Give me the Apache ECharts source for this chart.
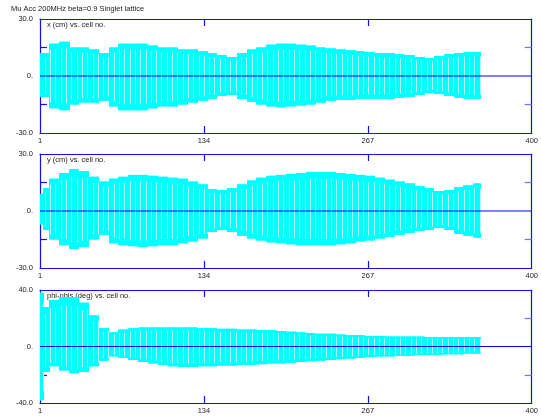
<!DOCTYPE html>
<html>
<head>
<meta charset="utf-8">
<script src="https://cdn.jsdelivr.net/npm/echarts@6/dist/echarts.min.js"></script>
<style>
html,body{margin:0;padding:0;background:#fff;}
#chart{width:541px;height:417px;}
</style>
</head>
<body>
<div id="chart"></div>
<script>
// Group boundaries (cell numbers); each group spans [cellEdges[i], cellEdges[i+1])
const cellEdges = [1,4,9,17,25,33,41,49,57,65,73,81,89,97,105,113,121,129,137,145,153,161,169,177,185,193,201,209,217,225,233,241,249,257,265,273,281,289,297,305,313,321,329,337,345,353,359];

// Panel 1: x (cm) envelope per group
const xHi = [12,12,17,18,15,15,14,12,15,17,17,17,16,15,15,14,14,13,12,11,10,12,14,15,16.5,17,17,16.5,16,15,14.5,14,13.5,13,12.5,12,12,11.5,11,10,9.5,10.5,11.5,12,12.5,12.5];
const xLo = [-11,-11,-17,-18,-15,-14,-14,-13,-16,-18,-18,-18,-17,-16,-16,-15,-14,-13,-12,-10.5,-10,-12,-13.5,-15,-16,-16.5,-16,-15.5,-15,-14,-13,-12.5,-12.5,-12,-12,-12,-12,-11.5,-11,-10,-9,-9.5,-10.5,-11.5,-12,-12];

// Panel 2: y (cm) envelope per group
const yHi = [9,12,17,20,22,21,18,15.5,17,18,19,19,18.5,18,17.5,17,15.5,14,11.5,11,12,14,16,17.5,18.5,19,19.5,20,20.5,20.5,20.5,20,19.5,19,18.5,17.5,16.5,15.5,14.5,13,12,10.5,11,12.5,13.5,14.5];
const yLo = [-7,-10,-15,-18,-20,-19,-15,-12.5,-17,-18,-18.5,-19,-18.5,-18,-18,-17,-16,-14.5,-11,-10,-11,-13,-14.5,-15.5,-16.5,-17,-17.5,-18,-18,-18,-18,-17.5,-17,-16,-15.5,-14.5,-13.5,-12.5,-11.5,-10.5,-10,-9,-10,-12,-13,-14];

// Panel 3: phi-phis (deg) envelope per group
const pHi = [38,28,33,35,35,31,22,13,10,12,13,13.5,13.5,13.5,13.5,13.5,13.5,13,13,12.5,12.5,12,12,11.5,11.5,11,10.5,10,9.5,9,9,8.5,8,8,7.5,7.5,7,7,7,7,6.5,6.5,6.5,6.5,6.5,6.5];
const pLo = [-38,-18,-14,-17,-19,-18,-14,-10,-7,-8,-9.5,-11,-12,-13,-14,-14.5,-14.5,-14,-14,-13.5,-13.5,-13,-13,-12.5,-12,-12,-11.5,-11,-10.5,-10,-9.5,-9,-8.5,-8,-7.5,-7,-7,-6.5,-6.5,-6,-6,-6,-5.5,-5.5,-5,-5];

const xTicks = [1,134,267,400];
const panelTitles = ['x (cm) vs. cell no.','y (cm) vs. cell no.','phi-phis (deg) vs. cell no.'];
const yRanges = [30,30,40];
const mainTitle = 'Mu Acc 200MHz beta=0.9 Singlet lattice';

const panels = [[xHi,xLo],[yHi,yLo],[pHi,pLo]];
const tops = [19,154,290];
const heights = [114,114,113];
const FONT = 'Liberation Sans';
const BLUE = '#1010f0';
const TXT = '#222';

const grids = [], xAxes = [], yAxes = [], series = [], titles = [];
titles.push({text: mainTitle, left: 11, top: 5, padding: 0,
  textStyle:{fontSize:7.5, fontWeight:'normal', color:TXT, fontFamily:FONT}});

panels.forEach(([hi, lo], p) => {
  const R = yRanges[p];
  grids.push({left:40, right:7, top:tops[p], height:heights[p], containLabel:false});
  titles.push({text: panelTitles[p], left: 47, top: tops[p] + 1.5, padding: 0, z: 1,
    textStyle:{fontSize:7.5, fontWeight:'normal', color:TXT, fontFamily:FONT}});
  const axLine = {show:true, onZero:false, lineStyle:{color:BLUE, width:1.2}};
  xAxes.push({gridIndex:p, type:'value', min:xTicks[0], max:xTicks[xTicks.length-1], position:'bottom',
    axisLine:axLine, splitLine:{show:false},
    axisTick:{show:true, inside:true, length:7, customValues:xTicks.slice(1,-1), lineStyle:{color:BLUE, width:1.2}},
    axisLabel:{show:true, customValues:xTicks, fontSize:7.5, color:TXT, fontFamily:FONT, margin:4,
      formatter: v => String(Math.round(v))}});
  xAxes.push({gridIndex:p, type:'value', min:xTicks[0], max:xTicks[xTicks.length-1], position:'top',
    axisLine:axLine, splitLine:{show:false},
    axisTick:{show:true, inside:true, length:7, customValues:xTicks.slice(1,-1), lineStyle:{color:BLUE, width:1.2}},
    axisLabel:{show:false}});
  const yFmt = v => v === 0 ? '0.' : v.toFixed(1);
  yAxes.push({gridIndex:p, type:'value', min:-R, max:R, position:'left',
    axisLine:axLine, splitLine:{show:false},
    axisTick:{show:true, inside:true, length:7, customValues:[-R/2, R/2], lineStyle:{color:BLUE, width:1.2}},
    axisLabel:{show:true, customValues:[-R,0,R], fontSize:7.5, color:TXT, fontFamily:FONT, margin:7, formatter:yFmt}});
  yAxes.push({gridIndex:p, type:'value', min:-R, max:R, position:'right',
    axisLine:axLine, splitLine:{show:false},
    axisTick:{show:true, inside:true, length:7, customValues:[-R/2, R/2], lineStyle:{color:'#7070ff', width:1.2}},
    axisLabel:{show:false}});

  const data = hi.map((h, i) => [cellEdges[i], cellEdges[i+1], lo[i], h]);
  series.push({
    type:'custom', xAxisIndex:2*p, yAxisIndex:2*p, z:3, clip:true,
    encode:{x:[0,1], y:[2,3]},
    data: data,
    renderItem: function(params, api){
      const s = api.value(0), e = api.value(1), l = api.value(2), h = api.value(3);
      const a = api.coord([s, h]), b = api.coord([e, l]);
      const x0 = Math.round(a[0]), x1 = Math.round(b[0]);
      const w = Math.max(1, x1 - x0);
      const yIn1 = api.coord([s, h * 0.82])[1], yIn2 = api.coord([s, l * 0.82])[1];
      const children = [
        // pale body
        {type:'rect', shape:{x:x0, y:a[1], width:w, height:b[1]-a[1]}, style:{fill:'#b4ffff'}},
        // dense edge bands
        {type:'rect', shape:{x:x0, y:a[1], width:w, height:yIn1-a[1]}, style:{fill:'#00ffff'}},
        {type:'rect', shape:{x:x0, y:yIn2, width:w, height:b[1]-yIn2}, style:{fill:'#00ffff'}}
      ];
      // one column per cell
      for (let c = s; c < e; c += 1) {
        const px = Math.floor(api.coord([c, 0])[0]);
        children.push({type:'rect', shape:{x:px, y:a[1], width:1, height:b[1]-a[1]}, style:{fill:'#00ffff'}});
      }
      return {type:'group', children};
    }
  });
  series.push({
    type:'line', xAxisIndex:2*p, yAxisIndex:2*p, z:5, symbol:'none', silent:true,
    data:[[xTicks[0],0],[xTicks[xTicks.length-1],0]],
    lineStyle:{color:'#0000ff', width:1}
  });
});

const chart = echarts.init(document.getElementById('chart'), null, {renderer:'canvas'});
chart.setOption({
  animation:false,
  backgroundColor:'#fff',
  title: titles,
  grid: grids,
  xAxis: xAxes,
  yAxis: yAxes,
  series: series
});
</script>
</body>
</html>
